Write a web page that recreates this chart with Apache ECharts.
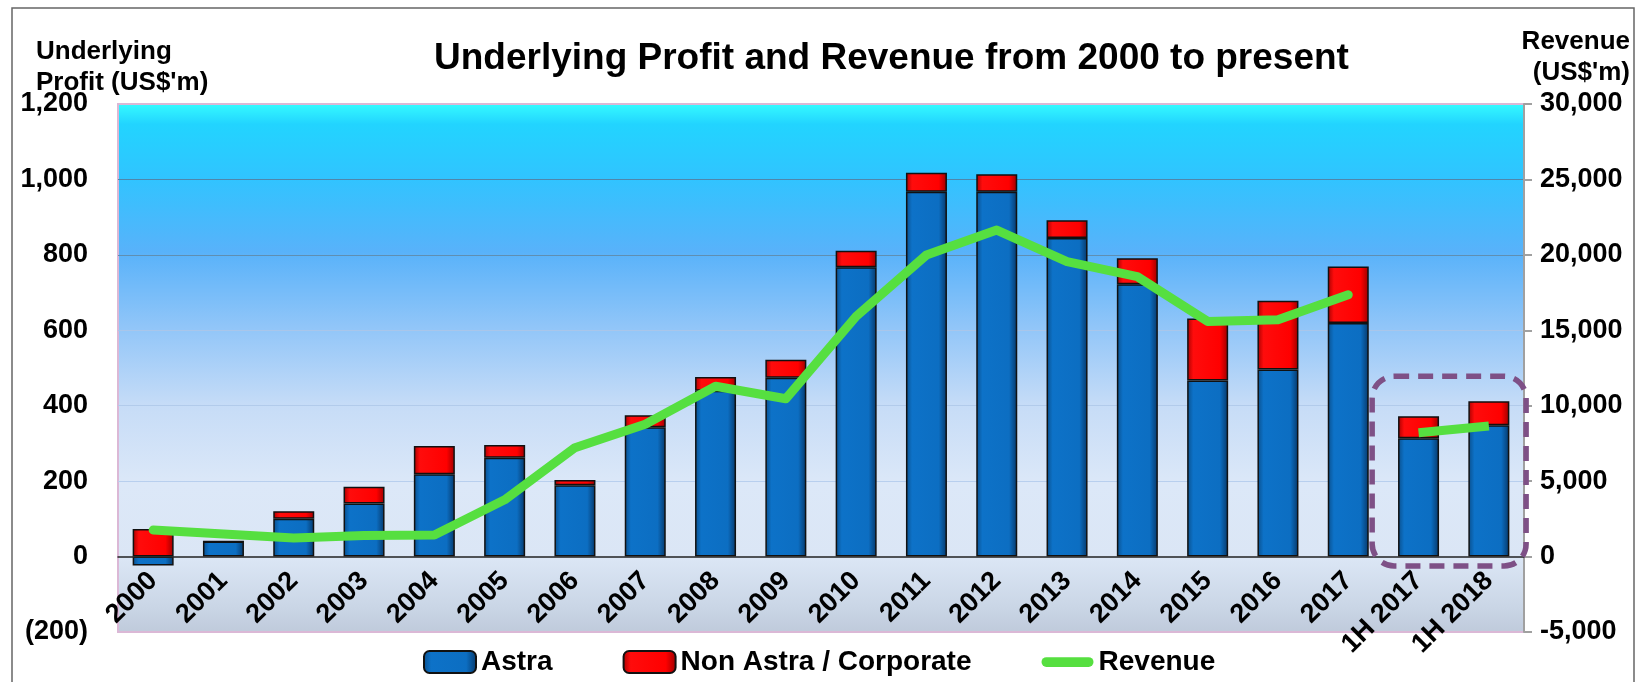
<!DOCTYPE html>
<html>
<head>
<meta charset="utf-8">
<script src="https://cdn.jsdelivr.net/npm/echarts@6/dist/echarts.min.js"></script>
<style>
  html, body { margin: 0; padding: 0; background: #fff; }
  #chart { width: 1640px; height: 682px; }
</style>
</head>
<body>
<div id="chart"></div>
<script>
var years = ['2000','2001','2002','2003','2004','2005','2006','2007','2008','2009',
  '2010','2011','2012','2013','2014','2015','2016','2017','1H 2017','1H 2018'];
var astra = [-24, 40, 100, 141, 218, 262, 189, 343, 440, 474,
  767, 967, 967, 845, 722, 467, 496, 619, 314, 348];
var nonAstra = [73, 0, 20, 44, 75, 34, 14, 32, 36, 48,
  44, 51, 47, 47, 69, 164, 182, 150, 58, 64];
var revenueFull = [1760, 1500, 1235, 1390, 1430, 3760, 7220, 8770, 11290, 10460,
  15920, 19990, 21640, 19550, 18560, 15590, 15700, 17350, null, null];
var revenueHalf = [null, null, null, null, null, null, null, null, null, null,
  null, null, null, null, null, null, null, null, 8210, 8650];
var leftTicks = { min: -200, max: 1200, step: 200 };
var rightTicks = { min: -5000, max: 30000, step: 5000 };

var FONT = 'Liberation Sans, Arial, sans-serif';

function fmt(v) {
  return Math.abs(v).toString().replace(/\B(?=(\d{3})+(?!\d))/g, ',');
}

var blueFill = {
  type: 'linear', x: 0, y: 0, x2: 1, y2: 0,
  colorStops: [
    { offset: 0, color: '#0a4f8c' },
    { offset: 0.15, color: '#0d72c8' },
    { offset: 0.8, color: '#0c6ec2' },
    { offset: 1, color: '#06386a' }
  ]
};
var redFill = {
  type: 'linear', x: 0, y: 0, x2: 1, y2: 0,
  colorStops: [
    { offset: 0, color: '#a80000' },
    { offset: 0.15, color: '#ff0c0c' },
    { offset: 0.8, color: '#ff0000' },
    { offset: 1, color: '#9a0000' }
  ]
};

var chart = echarts.init(document.getElementById('chart'));

var option = {
  backgroundColor: '#fff',
  animation: false,
  title: [
    {
      text: 'Underlying Profit and Revenue from 2000 to present',
      left: 429, top: 34,
      textStyle: { fontFamily: FONT, fontSize: 37, fontWeight: 'bold', color: '#000', lineHeight: 40 }
    },
    {
      text: "Underlying\nProfit (US$'m)",
      left: 31, top: 31,
      textStyle: { fontFamily: FONT, fontSize: 26, fontWeight: 'bold', color: '#000', lineHeight: 31 }
    },
    {
      text: "Revenue\n(US$'m)",
      left: 'right', top: 21, padding: [5, 10, 5, 5],
      textStyle: { fontFamily: FONT, fontSize: 26, fontWeight: 'bold', color: '#000', lineHeight: 31, align: 'right' }
    }
  ],
  legend: {
    left: 418, top: 643,
    itemWidth: 52, itemHeight: 22, itemGap: 70,
    textStyle: { fontFamily: FONT, fontSize: 28, fontWeight: 'bold', color: '#000' },
    data: [
      { name: 'Astra' },
      { name: 'Non Astra / Corporate' },
      { name: 'Revenue', icon: 'path://M6,0 L58,0 A6,6 0 0 1 58,12 L6,12 A6,6 0 0 1 6,0 Z', itemStyle: { borderWidth: 0, color: '#56df40' } }
    ]
  },
  grid: {
    left: 118, right: 116, top: 104, bottom: 50,
    outerBoundsMode: 'none',
    containLabel: false,
    show: true,
    borderColor: '#dbb8d6', borderWidth: 2,
    backgroundColor: {
      type: 'linear', x: 0, y: 0, x2: 0, y2: 1,
      colorStops: [
        { offset: 0, color: '#36fcff' },
        { offset: 0.04, color: '#22d4ff' },
        { offset: 0.14, color: '#30c4ff' },
        { offset: 0.28, color: '#58b2fa' },
        { offset: 0.42, color: '#90c5f8' },
        { offset: 0.57, color: '#c6dcf7' },
        { offset: 0.72, color: '#dce8f8' },
        { offset: 0.86, color: '#dbe6f5' },
        { offset: 0.95, color: '#cad6e6' },
        { offset: 1, color: '#bfcadb' }
      ]
    }
  },
  xAxis: {
    type: 'category',
    data: years,
    offset: 0,
    axisLine: { onZero: false, lineStyle: { color: '#222', width: 1.5 } },
    axisTick: { show: false },
    axisLabel: {
      interval: 0, rotate: 45, margin: 20,
      fontFamily: FONT, fontSize: 27, fontWeight: 'bold', color: '#000'
    },
    z: 3
  },
  yAxis: [
    {
      type: 'value',
      min: leftTicks.min, max: leftTicks.max, interval: leftTicks.step,
      axisLine: { show: false },
      axisTick: { show: false },
      axisLabel: {
        margin: 30,
        fontFamily: FONT, fontSize: 27, fontWeight: 'bold', color: '#000',
        formatter: function (v) { return v < 0 ? '(' + fmt(v) + ')' : fmt(v); }
      },
      splitLine: {
        show: true,
        lineStyle: {
          width: 1.2,
          color: ['rgba(0,0,0,0)', 'rgba(0,0,0,0)', '#b8cfee', '#b2cbeb', '#a9c6ea', '#5f8fb2', '#4f86ab', 'rgba(0,0,0,0)']
        }
      }
    },
    {
      type: 'value',
      min: rightTicks.min, max: rightTicks.max, interval: rightTicks.step,
      axisLine: { show: true, onZero: false, lineStyle: { color: '#a0a0a0', width: 2 } },
      axisTick: { show: true, length: 8, lineStyle: { color: '#a0a0a0', width: 2 } },
      axisLabel: {
        margin: 16,
        fontFamily: FONT, fontSize: 27, fontWeight: 'bold', color: '#000',
        formatter: function (v) { return (v < 0 ? '-' : '') + fmt(v); }
      },
      splitLine: { show: false }
    }
  ],
  series: [
    {
      name: 'Astra', type: 'bar', stack: 'profit', barWidth: 41,
      itemStyle: { color: blueFill, borderColor: '#111', borderWidth: 1.5 },
      data: astra
    },
    {
      name: 'Non Astra / Corporate', type: 'bar', stack: 'profit', barWidth: 41,
      itemStyle: { color: redFill, borderColor: '#111', borderWidth: 1.5 },
      data: nonAstra
    },
    {
      name: 'Revenue', type: 'line', yAxisIndex: 1,
      symbol: 'none', showSymbol: false, color: '#56df40',
      lineStyle: { color: '#56df40', width: 9, cap: 'round', join: 'round' },
      data: revenueFull, z: 5
    },
    {
      name: 'Revenue', type: 'line', yAxisIndex: 1,
      symbol: 'none', showSymbol: false, color: '#56df40',
      lineStyle: { color: '#56df40', width: 9, cap: 'butt', join: 'round' },
      data: revenueHalf, z: 5
    }
  ]
};

chart.setOption(option);

// move the category axis up to the profit zero line
var yZero = chart.convertToPixel({ yAxisIndex: 0 }, 0);
var yMin = chart.convertToPixel({ yAxisIndex: 0 }, leftTicks.min);

// dashed highlight box around the half-year bars, positioned from the axes
var p1 = chart.convertToPixel({ xAxisIndex: 0, yAxisIndex: 0 }, ['1H 2017', 478]);
var p2 = chart.convertToPixel({ xAxisIndex: 0, yAxisIndex: 0 }, ['1H 2018', -25]);
var band = p2[0] - p1[0];
var bx = p1[0] - band * 0.66;
var bw = (p2[0] + band * 0.53) - bx;

chart.setOption({
  xAxis: { offset: -(yMin - yZero) },
  graphic: [
    {
      type: 'rect', z: 100,
      shape: { x: bx, y: p1[1], width: bw, height: p2[1] - p1[1], r: 22 },
      style: { fill: 'none', stroke: '#7e5086', lineWidth: 5.5, lineDash: [15, 9] }
    },
    {
      type: 'rect', z: 100, silent: true,
      shape: { x: 12, y: 8, width: 1622, height: 690 },
      style: { fill: 'none', stroke: '#666', lineWidth: 1.5 }
    }
  ]
});
</script>
</body>
</html>
